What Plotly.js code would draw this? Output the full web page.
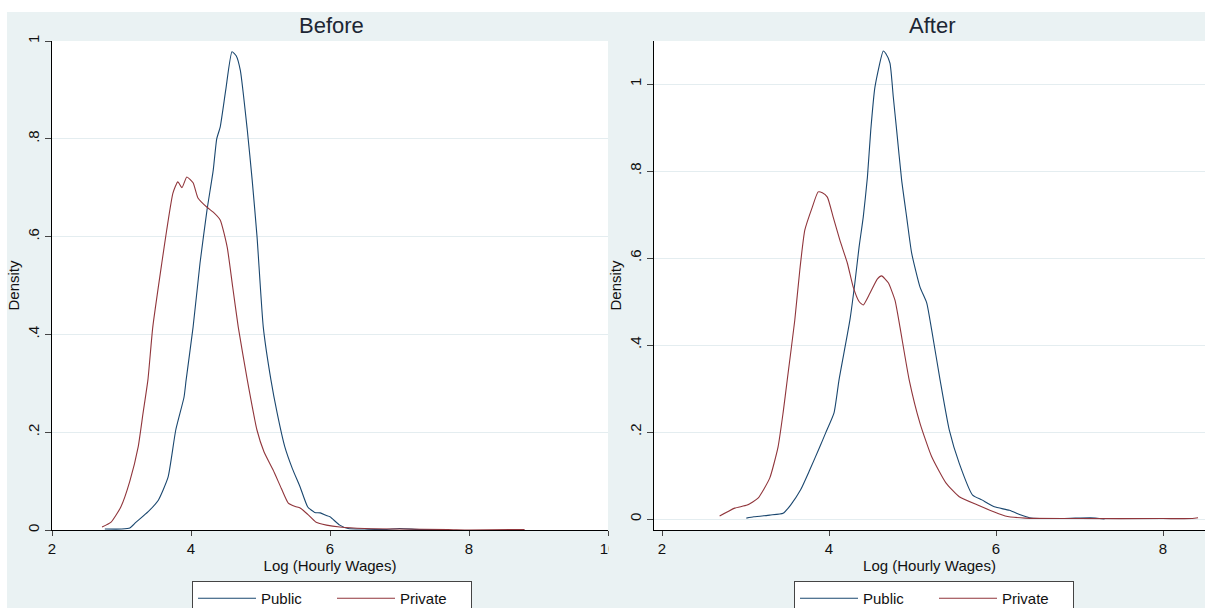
<!DOCTYPE html>
<html>
<head>
<meta charset="utf-8">
<script src="https://cdn.plot.ly/plotly-3.0.1.min.js"></script>
<style>html,body{margin:0;padding:0;background:#fff;}#chart{width:1205px;height:608px;}</style>
</head>
<body>
<div id="chart"></div>
<script>
// ---- Data ----
const panelTitles = ["Before", "After"];
const seriesNames = ["Public", "Private"];
const xTitle = "Log (Hourly Wages)";
const yTitle = "Density";

const beforeXTicks = [2, 4, 6, 8, 10];
const beforeYTicks = [0, 0.2, 0.4, 0.6, 0.8, 1];
const beforeYTickText = ["0", ".2", ".4", ".6", ".8", "1"];
const afterXTicks = [2, 4, 6, 8];
const afterYTicks = [0, 0.2, 0.4, 0.6, 0.8, 1];
const afterYTickText = ["0", ".2", ".4", ".6", ".8", "1"];

// Before - Public
const beforePublicX = [2.76,3.00,3.12,3.21,3.38,3.53,3.67,3.78,3.90,3.93,4.03,4.13,4.23,4.32,4.37,4.42,4.50,4.59,4.65,4.71,4.81,4.88,4.95,5.04,5.15,5.24,5.35,5.46,5.57,5.68,5.78,5.86,5.94,6.00,6.14,6.26,6.50,6.80,7.00,7.30,7.70];
const beforePublicY = [0.002,0.002,0.004,0.016,0.037,0.061,0.108,0.204,0.272,0.307,0.415,0.546,0.654,0.736,0.800,0.824,0.900,0.978,0.970,0.940,0.818,0.716,0.600,0.415,0.307,0.239,0.170,0.125,0.088,0.047,0.036,0.035,0.030,0.027,0.010,0.003,0.002,0.001,0.003,0.001,0.001];
// Before - Private
const beforePrivateX = [2.72,2.85,2.99,3.12,3.24,3.31,3.38,3.45,3.58,3.65,3.74,3.81,3.87,3.94,4.03,4.10,4.23,4.32,4.42,4.52,4.60,4.68,4.81,4.95,5.05,5.18,5.30,5.40,5.50,5.57,5.68,5.80,5.95,6.14,6.50,7.00,7.70,8.00,8.80];
const beforePrivateY = [0.006,0.016,0.047,0.100,0.170,0.239,0.307,0.415,0.546,0.613,0.689,0.712,0.700,0.722,0.710,0.679,0.660,0.650,0.634,0.579,0.497,0.415,0.307,0.204,0.160,0.123,0.085,0.055,0.048,0.045,0.032,0.016,0.010,0.006,0.003,0.002,0.001,0.000,0.001];
// After - Public
const afterPublicX = [3.01,3.10,3.29,3.45,3.54,3.66,3.77,3.89,3.96,4.06,4.12,4.25,4.31,4.36,4.41,4.46,4.50,4.55,4.65,4.68,4.73,4.77,4.81,4.87,4.93,4.99,5.09,5.17,5.23,5.33,5.44,5.56,5.72,5.83,5.98,6.16,6.30,6.40,6.80,7.13,7.30];
const afterPublicY = [0.002,0.005,0.009,0.013,0.032,0.067,0.113,0.166,0.198,0.244,0.320,0.457,0.543,0.625,0.694,0.786,0.894,0.993,1.076,1.070,1.048,0.970,0.894,0.779,0.694,0.611,0.533,0.497,0.434,0.320,0.205,0.128,0.055,0.044,0.028,0.020,0.009,0.003,0.001,0.003,0.000];
// After - Private
const afterPrivateX = [2.69,2.87,3.02,3.15,3.29,3.39,3.45,3.50,3.59,3.65,3.71,3.80,3.87,3.92,3.98,4.05,4.13,4.22,4.29,4.36,4.41,4.49,4.58,4.63,4.71,4.79,4.85,4.96,5.09,5.23,5.40,5.56,5.78,5.98,6.11,6.35,7.00,8.00,8.35,8.42];
const afterPrivateY = [0.007,0.025,0.032,0.048,0.094,0.166,0.244,0.320,0.457,0.572,0.664,0.717,0.752,0.750,0.740,0.694,0.641,0.588,0.533,0.500,0.492,0.519,0.552,0.559,0.543,0.503,0.441,0.320,0.220,0.143,0.083,0.051,0.032,0.016,0.007,0.002,0.001,0.001,0.001,0.003];

// ---- Styling ----
const W = 1205, H = 608;
const px = v => v / W;
const py = v => 1 - v / H;
const BLUE = "#1a476f", RED = "#90353b", BG = "#eaf2f3", GRID = "#e4edf0";
const FONT = "Arial, 'Liberation Sans', sans-serif";
const TXT = "#111";

function lineTrace(x, y, name, color, xa, ya, lg) {
  return {x: x, y: y, name: name, type: "scatter", mode: "lines",
    line: {color: color, width: 1.1, shape: "spline", smoothing: 0.5},
    xaxis: xa, yaxis: ya, legend: lg};
}
const traces = [
  lineTrace(beforePublicX, beforePublicY, seriesNames[0], BLUE, "x", "y", "legend"),
  lineTrace(beforePrivateX, beforePrivateY, seriesNames[1], RED, "x", "y", "legend"),
  lineTrace(afterPublicX, afterPublicY, seriesNames[0], BLUE, "x2", "y2", "legend2"),
  lineTrace(afterPrivateX, afterPrivateY, seriesNames[1], RED, "x2", "y2", "legend2")
];

function xAxis(domain, range, ticks) {
  return {
    domain: domain, range: range, tickmode: "array", tickvals: ticks, ticktext: ticks.map(String),
    showline: true, linecolor: "#000", linewidth: 1, ticks: "outside", ticklen: 5, tickcolor: "#444",
    showgrid: false, zeroline: false, automargin: false,
    tickfont: {family: FONT, size: 15, color: TXT},
    title: {text: xTitle, font: {family: FONT, size: 15, color: TXT}, standoff: 3}
  };
}
function yAxis(domain, range, ticks, text, anchor) {
  return {
    domain: domain, range: range, tickmode: "array", tickvals: ticks, ticktext: text, anchor: anchor,
    showline: true, linecolor: "#000", linewidth: 1, ticks: "outside", ticklen: 6, tickcolor: "#444",
    showgrid: true, gridcolor: GRID, gridwidth: 1, zeroline: false, automargin: false,
    tickangle: -90,
    tickfont: {family: FONT, size: 15, color: TXT},
    title: {text: yTitle, font: {family: FONT, size: 15, color: TXT}, standoff: 1}
  };
}

const yDom = [py(530), py(41)];
const legendCommon = {
  orientation: "h", xanchor: "left", yanchor: "top", bgcolor: "#fff",
  bordercolor: "#444", borderwidth: 1, font: {family: FONT, size: 15, color: TXT},
  itemwidth: 58, entrywidth: 66, traceorder: "normal"
};

const layout = {
  width: W, height: H,
  margin: {l: 0, r: 0, t: 0, b: 0, autoexpand: false},
  paper_bgcolor: BG, plot_bgcolor: "#fff",
  showlegend: true,
  xaxis: Object.assign(xAxis([px(52), px(608)], [2, 10], beforeXTicks), {anchor: "y"}),
  yaxis: yAxis(yDom, [0, 1], beforeYTicks, beforeYTickText, "x"),
  xaxis2: Object.assign(xAxis([px(654), 1], [1.904, 8.503], afterXTicks), {anchor: "y2"}),
  yaxis2: yAxis(yDom, [-0.0253, 1.0989], afterYTicks, afterYTickText, "x2"),
  legend: Object.assign({}, legendCommon, {x: px(192), y: py(581)}),
  legend2: Object.assign({}, legendCommon, {x: px(794), y: py(581)}),
  shapes: [
    {type: "rect", xref: "paper", yref: "paper", x0: 0, x1: 1, y0: py(12), y1: 1,
     fillcolor: "#fff", line: {width: 0}, layer: "below"},
    {type: "rect", xref: "paper", yref: "paper", x0: 0, x1: px(7), y0: 0, y1: 1,
     fillcolor: "#fff", line: {width: 0}, layer: "below"},
    {type: "rect", xref: "paper", yref: "paper", x0: px(608.5), x1: px(628), y0: py(562), y1: py(537),
     fillcolor: BG, line: {width: 0}, layer: "above"}
  ],
  annotations: [
    {text: panelTitles[0], xref: "paper", yref: "paper", x: px(331), y: py(25), xanchor: "center", yanchor: "middle",
     showarrow: false, font: {family: FONT, size: 22, color: "#1c2633"}},
    {text: panelTitles[1], xref: "paper", yref: "paper", x: px(932), y: py(25), xanchor: "center", yanchor: "middle",
     showarrow: false, font: {family: FONT, size: 22, color: "#1c2633"}}
  ]
};

Plotly.newPlot("chart", traces, layout, {displayModeBar: false, staticPlot: true});
</script>
</body>
</html>
